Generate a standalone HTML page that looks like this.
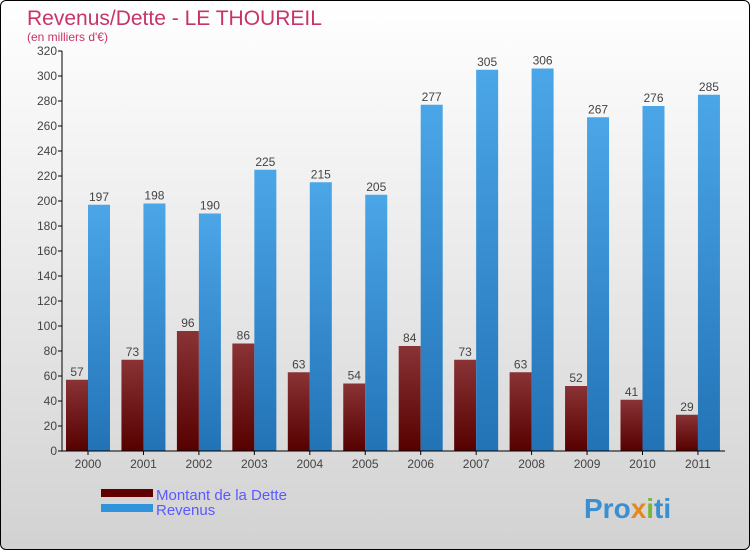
<!DOCTYPE html>
<html><head><meta charset="utf-8"><style>
body{margin:0}
#c{width:748px;height:548px;border:1px solid #000;border-radius:6px;overflow:hidden;background:linear-gradient(#fff,#f2f2f2 30%,#d2d2d2);position:relative;font-family:"Liberation Sans",sans-serif}
</style></head><body>
<div id="c">
<svg id="s" width="748" height="548" xmlns="http://www.w3.org/2000/svg">
<defs>
<linearGradient id="gd" x1="0" y1="0" x2="0" y2="1"><stop offset="0" stop-color="#8a3336"/><stop offset="1" stop-color="#560000"/></linearGradient>
<linearGradient id="gr" x1="0" y1="0" x2="0" y2="1"><stop offset="0" stop-color="#4ba6e8"/><stop offset="1" stop-color="#2273b6"/></linearGradient>
</defs>
<text x="26" y="24" font-size="21" fill="#c8336a">Revenus/Dette - LE THOUREIL</text>
<text x="26" y="40" font-size="12" fill="#c8336a">(en milliers d'€)</text>
<g id="g"></g>
<rect x="100" y="488" width="52" height="8" fill="#600000"/>
<text x="155" y="499" font-size="15" fill="#5a5aff">Montant de la Dette</text>
<rect x="100" y="503" width="52" height="8" fill="#2f94dc"/>
<text x="155" y="514" font-size="15" fill="#5a5aff">Revenus</text>
<text x="583" y="517" font-size="28" font-weight="bold" fill="#3a8fd0">Pro<tspan fill="#e58a1a">x</tspan><tspan fill="#7ab63a">i</tspan>ti</text>
</svg></div>
<script>
const categories=["2000","2001","2002","2003","2004","2005","2006","2007","2008","2009","2010","2011"];
const dette=[57,73,96,86,63,54,84,73,63,52,41,29];
const revenus=[197,198,190,225,215,205,277,305,306,267,276,285];
const ticks=[0,20,40,60,80,100,120,140,160,180,200,220,240,260,280,300,320];
const NS="http://www.w3.org/2000/svg",g=document.getElementById('g');
const x0=61,band=55.45,y0=450,ys=400/320;
const y=v=>y0-v*ys, cx=i=>87+band*i;
function el(t,a,txt){const e=document.createElementNS(NS,t);for(const k in a)e.setAttribute(k,a[k]);if(txt!=null)e.textContent=txt;g.appendChild(e);return e;}
ticks.forEach(t=>{
const l=el('line',{x1:x0-4,x2:x0,y1:y(t),y2:y(t),stroke:'#000'});


const tx=el('text',{x:x0-5,y:y(t)+4,'font-size':12,fill:'#444','text-anchor':'end'},t);


});
categories.forEach((c,i)=>{
const c0=cx(i);
const bd=el('rect',{x:c0-22,y:y(dette[i]),width:22,height:dette[i]*ys,fill:'url(#gd)'});


const br=el('rect',{x:c0,y:y(revenus[i]),width:22,height:revenus[i]*ys,fill:'url(#gr)'});


const ld=el('text',{x:c0-11,y:y(dette[i])-4,'font-size':12,fill:'#444','text-anchor':'middle'},dette[i]);


const lr=el('text',{x:c0+11,y:y(revenus[i])-4,'font-size':12,fill:'#444','text-anchor':'middle'},revenus[i]);


const tk=el('line',{x1:c0,x2:c0,y1:y0,y2:y0+4,stroke:'#000'});


const xl=el('text',{x:c0,y:y0+17,'font-size':12,fill:'#444','text-anchor':'middle'},c);


});
const ya=el('line',{x1:x0,x2:x0,y1:y(320),y2:y0,stroke:'#000'});


const xa=el('line',{x1:x0,x2:724,y1:y0,y2:y0,stroke:'#000'});


</script>
</body></html>
